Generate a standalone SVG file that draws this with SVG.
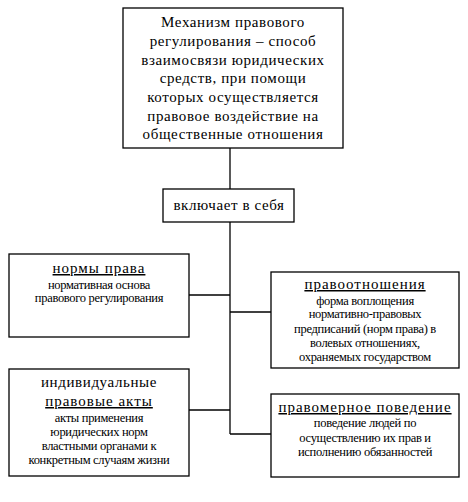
<svg xmlns="http://www.w3.org/2000/svg" width="468" height="502" viewBox="0 0 468 502" font-family="Liberation Serif, DejaVu Serif, serif">
<style>
rect{fill:#fff;stroke:#000;stroke-width:1.3}
text{fill:#000;text-anchor:middle}
.t{font-size:15px;letter-spacing:0.6px}
.h{font-size:15px;letter-spacing:1px;text-decoration:underline}
.d{font-size:12.5px;letter-spacing:-0.3px}
#connectors line{stroke:#000;stroke-width:1.3}
</style>
<rect x="0" y="0" width="468" height="502" style="stroke:none"/>
<g id="connectors">
<line x1="230" y1="148" x2="230" y2="434"/>
<line x1="189" y1="295" x2="230" y2="295"/>
<line x1="230" y1="312" x2="271" y2="312"/>
<line x1="189" y1="410" x2="230" y2="410"/>
<line x1="230" y1="434" x2="271" y2="434"/>
</g>
<g id="mechanism">
<rect x="123" y="8" width="220" height="140"/>
<text class="t" x="233" y="27">Механизм правового</text>
<text class="t" x="233" y="46">регулирования – способ</text>
<text class="t" x="233" y="65">взаимосвязи юридических</text>
<text class="t" x="233" y="83">средств, при помощи</text>
<text class="t" x="233" y="102">которых осуществляется</text>
<text class="t" x="233" y="121">правовое воздействие на</text>
<text class="t" x="233" y="139">общественные отношения</text>
</g>
<g id="includes">
<rect x="163" y="189" width="131" height="33"/>
<text class="t" x="229" y="210">включает в себя</text>
</g>
<g id="norms">
<rect x="9" y="254" width="180" height="83"/>
<text class="h" x="99" y="273">нормы права</text>
<text class="d" x="99" y="289">нормативная основа</text>
<text class="d" x="99" y="302">правового регулирования</text>
</g>
<g id="relations">
<rect x="271" y="272" width="188" height="96"/>
<text class="h" x="365" y="289">правоотношения</text>
<text class="d" x="365" y="305">форма воплощения</text>
<text class="d" x="365" y="318">нормативно-правовых</text>
<text class="d" x="365" y="333">предписаний (норм права) в</text>
<text class="d" x="365" y="347">волевых отношениях,</text>
<text class="d" x="365" y="361">охраняемых государством</text>
</g>
<g id="acts">
<rect x="9" y="369" width="180" height="107"/>
<text class="t" x="99" y="387">индивидуальные</text>
<text class="h" x="99" y="406">правовые акты</text>
<text class="d" x="99" y="422">акты применения</text>
<text class="d" x="99" y="436">юридических норм</text>
<text class="d" x="99" y="450">властными органами к</text>
<text class="d" x="99" y="464">конкретным случаям жизни</text>
</g>
<g id="behavior">
<rect x="271" y="394" width="188" height="83"/>
<text class="h" x="365" y="412">правомерное поведение</text>
<text class="d" x="365" y="427">поведение людей по</text>
<text class="d" x="365" y="442">осуществлению их прав и</text>
<text class="d" x="365" y="456">исполнению обязанностей</text>
</g>
</svg>
